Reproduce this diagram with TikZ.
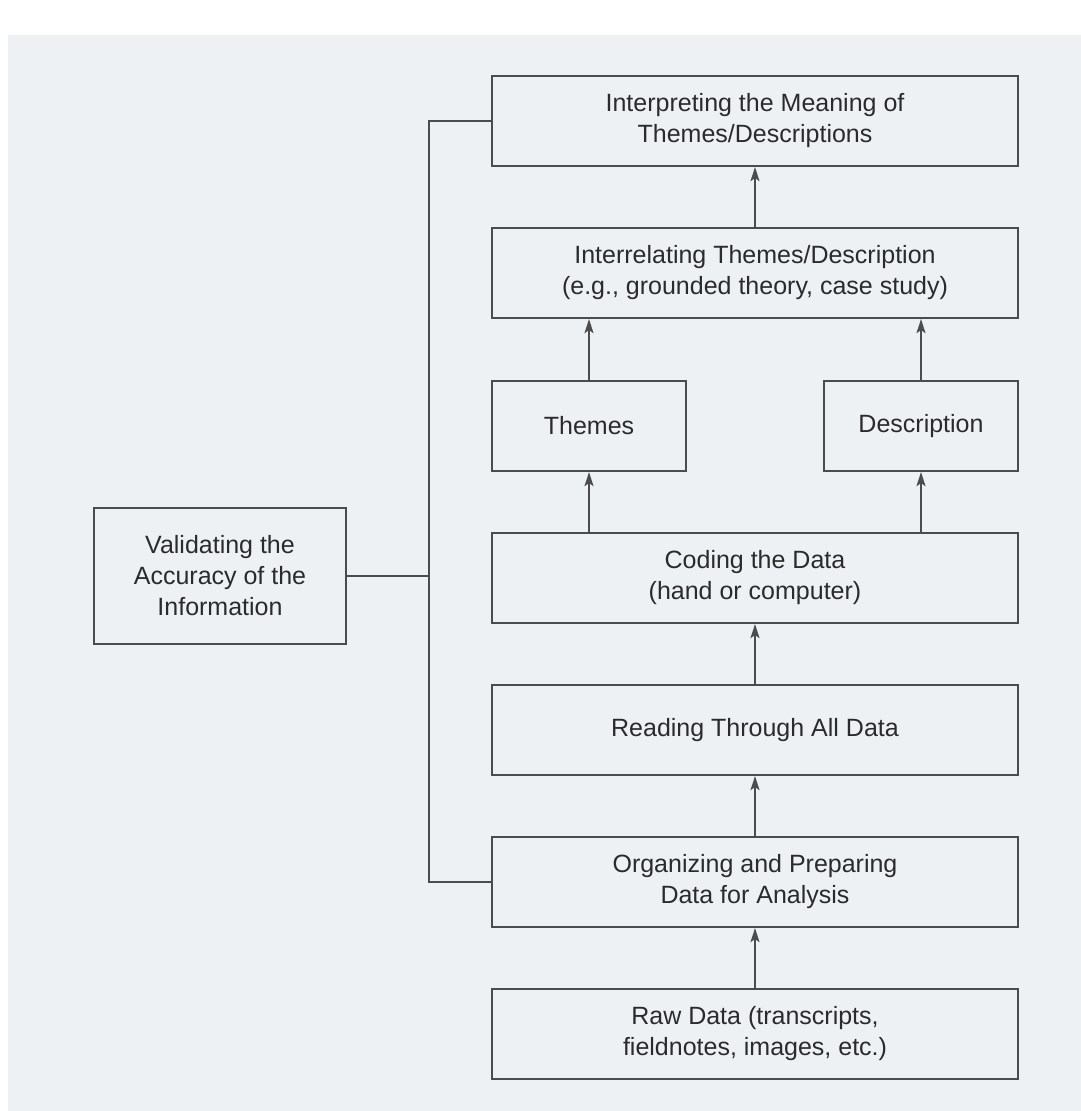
\documentclass[tikz,border=0pt]{standalone}
\usepackage{fontspec}
\setmainfont{Liberation Sans}
\usetikzlibrary{arrows.meta}
\definecolor{paper}{HTML}{EEF1F4}
\definecolor{ink}{HTML}{4A4C4E}
\definecolor{txt}{HTML}{2A2B2D}
\begin{document}
\begin{tikzpicture}[x=1pt,y=-1pt,
  box/.style={draw=ink, line width=2.2pt, rectangle, inner sep=0pt,
    minimum height=90pt, text=txt, align=center,
    font=\fontsize{25}{31}\selectfont},
  wide/.style={box, minimum width=526pt},
  narrow/.style={box, minimum width=194pt},
  link/.style={draw=ink, line width=2pt},
  arr/.style={link, -{Stealth[length=14pt,width=9pt,inset=3pt]}}]
\useasboundingbox (0,0) rectangle (1081,1111);
\fill[white] (0,0) rectangle (1081,1111);
\fill[paper] (8,35) rectangle (1081,1111);

\node[wide]   (interp)   at (755,121) {Interpreting the Meaning of\\Themes/Descriptions};
\node[wide]   (interrel) at (755,273) {Interrelating Themes/Description\\(e.g., grounded theory, case study)};
\node[narrow] (themes)   at (589,426) {Themes};
\node[narrow] (desc)     at (921,426) {Description};
\node[wide]   (coding)   at (755,578) {Coding the Data\\(hand or computer)};
\node[wide]   (reading)  at (755,730) {Reading Through All Data};
\node[wide]   (organ)    at (755,882) {Organizing and Preparing\\Data for Analysis};
\node[wide]   (raw)      at (755,1034) {Raw Data (transcripts,\\fieldnotes, images, etc.)};
\node[box, minimum width=252pt, minimum height=136pt] (valid) at (220,576)
  {Validating the\\Accuracy of the\\Information};

\coordinate (vtop) at (429,121);
\coordinate (vbot) at (429,882);
\draw[link] (interp.west) -- (vtop) -- (vbot) -- (organ.west);
\draw[link] (valid.east) -- (valid.east -| vtop);

\draw[arr] (interrel.north) -- (interp.south);
\draw[arr] (themes.north) -- (themes.north |- interrel.south);
\draw[arr] (desc.north) -- (desc.north |- interrel.south);
\draw[arr] (coding.north -| themes) -- (themes.south);
\draw[arr] (coding.north -| desc) -- (desc.south);
\draw[arr] (reading.north) -- (coding.south);
\draw[arr] (organ.north) -- (reading.south);
\draw[arr] (raw.north) -- (organ.south);
\end{tikzpicture}
\end{document}
